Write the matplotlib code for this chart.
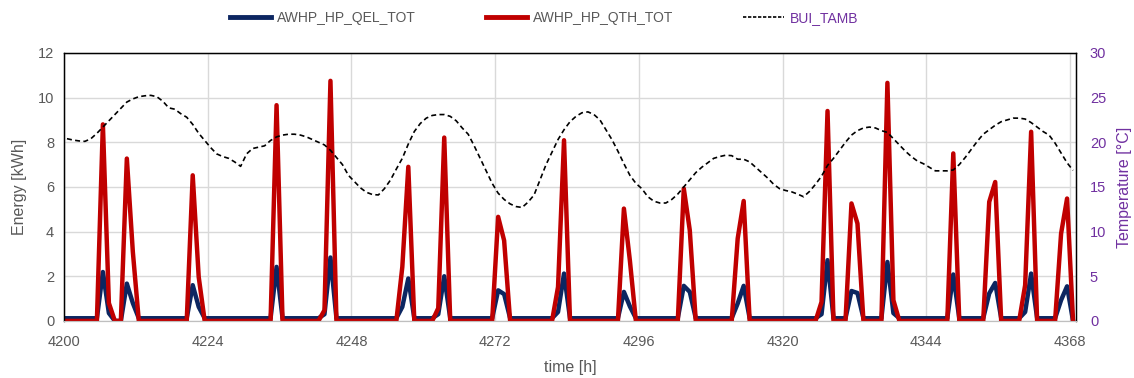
import numpy as np
import matplotlib.pyplot as plt
from matplotlib.lines import Line2D

plt.rcParams['font.family'] = ['Liberation Sans Narrow', 'Liberation Sans', 'DejaVu Sans']

# hourly values, 4200 .. 4368
hours = np.arange(4200, 4369)

# BUI_TAMB [°C]
tamb = [
    20.4, 20.25, 20.15, 20.1, 20.4, 21.0, 21.7, 22.4, 23.1, 23.8, 24.5, 24.85,      # 4200
    25.1, 25.2, 25.25, 25.1, 24.6, 23.85, 23.7, 23.2, 22.8, 22.0, 21.0, 20.2,       # 4212
    19.4, 18.7, 18.4, 18.2, 17.8, 17.3, 18.7, 19.3, 19.45, 19.6, 20.2, 20.6,        # 4224
    20.8, 20.9, 20.9, 20.8, 20.6, 20.3, 20.0, 19.7, 19.1, 18.3, 17.5, 16.3,         # 4236
    15.6, 14.9, 14.4, 14.15, 14.1, 14.8, 15.75, 17.0, 18.2, 19.8, 21.2, 22.1,       # 4248
    22.7, 23.0, 23.1, 23.1, 22.9, 22.4, 21.6, 20.9, 19.6, 18.2, 16.8, 15.4,         # 4260
    14.3, 13.6, 13.1, 12.8, 12.7, 13.3, 14.1, 15.8, 17.5, 18.9, 20.3, 21.4,         # 4272
    22.3, 22.9, 23.3, 23.4, 23.1, 22.5, 21.4, 20.3, 19.0, 17.6, 16.3, 15.4,         # 4284
    14.8, 13.9, 13.4, 13.2, 13.2, 13.6, 14.2, 15.0, 15.8, 16.6, 17.2, 17.7,         # 4296
    18.2, 18.4, 18.55, 18.5, 18.1, 18.1, 17.8, 17.2, 16.6, 16.0, 15.3, 14.8,        # 4308
    14.6, 14.45, 14.2, 13.9, 14.5, 15.3, 16.2, 17.4, 18.2, 19.1, 20.0, 20.8,        # 4320
    21.3, 21.6, 21.7, 21.6, 21.3, 21.1, 20.4, 19.7, 19.0, 18.4, 17.9, 17.6,         # 4332
    17.2, 16.8, 16.8, 16.8, 16.9, 17.5, 18.3, 19.2, 20.1, 20.9, 21.4, 21.9,         # 4344
    22.3, 22.5, 22.7, 22.7, 22.6, 22.2, 21.7, 21.2, 20.8, 19.9, 18.8, 17.7,         # 4356
    16.85,                                                                           # 4368
]

# AWHP_HP_QTH_TOT [kWh]
qth = [
    0, 0, 0, 0, 0, 0, 8.8, 0.8, 0, 0, 7.27, 3.1,                  # 4200
    0, 0, 0, 0, 0, 0, 0, 0, 0, 6.52, 1.97, 0,                     # 4212
    0, 0, 0, 0, 0, 0, 0, 0, 0, 0, 0, 9.66,                        # 4224
    0, 0, 0, 0, 0, 0, 0, 0.48, 10.75, 0, 0, 0,                    # 4236
    0, 0, 0, 0, 0, 0, 0, 0, 2.42, 6.9, 0, 0,                      # 4248
    0, 0, 0.57, 8.21, 0, 0, 0, 0, 0, 0, 0, 0,                     # 4260
    4.66, 3.6, 0, 0, 0, 0, 0, 0, 0, 0, 1.52, 8.09,                # 4272
    0, 0, 0, 0, 0, 0, 0, 0, 0, 5.03, 2.7, 0,                      # 4284
    0, 0, 0, 0, 0, 0, 0, 5.93, 4.06, 0, 0, 0,                     # 4296
    0, 0, 0, 0, 3.69, 5.37, 0, 0, 0, 0, 0, 0,                     # 4308
    0, 0, 0, 0, 0, 0, 0.85, 9.4, 0, 0, 0, 5.26,                   # 4320
    4.36, 0, 0, 0, 0, 10.66, 0.93, 0, 0, 0, 0, 0,                 # 4332
    0, 0, 0, 0, 7.5, 0, 0, 0, 0, 0, 5.33, 6.22,                   # 4344
    0, 0, 0, 0, 1.6, 8.47, 0, 0, 0, 0, 3.91, 5.48,                # 4356
    0,                                                            # 4368
]

# AWHP_HP_QEL_TOT [kWh]
qel = [
    0.12, 0.12, 0.12, 0.12, 0.12, 0.12, 2.19, 0.35, 0, 0, 1.67, 0.8,            # 4200
    0.12, 0.12, 0.12, 0.12, 0.12, 0.12, 0.12, 0.12, 0.12, 1.6, 0.63, 0.12,      # 4212
    0.12, 0.12, 0.12, 0.12, 0.12, 0.12, 0.12, 0.12, 0.12, 0.12, 0.12, 2.42,     # 4224
    0.12, 0.12, 0.12, 0.12, 0.12, 0.12, 0.12, 0.3, 2.84, 0.12, 0.12, 0.12,      # 4236
    0.12, 0.12, 0.12, 0.12, 0.12, 0.12, 0.12, 0.12, 0.63, 1.9, 0.12, 0.12,      # 4248
    0.12, 0.12, 0.3, 2.0, 0.12, 0.12, 0.12, 0.12, 0.12, 0.12, 0.12, 0.12,       # 4260
    1.37, 1.2, 0.12, 0.12, 0.12, 0.12, 0.12, 0.12, 0.12, 0.12, 0.4, 2.12,       # 4272
    0.12, 0.12, 0.12, 0.12, 0.12, 0.12, 0.12, 0.12, 0.12, 1.3, 0.65, 0.12,      # 4284
    0.12, 0.12, 0.12, 0.12, 0.12, 0.12, 0.12, 1.57, 1.3, 0.12, 0.12, 0.12,      # 4296
    0.12, 0.12, 0.12, 0.12, 0.78, 1.57, 0.12, 0.12, 0.12, 0.12, 0.12, 0.12,     # 4308
    0.12, 0.12, 0.12, 0.12, 0.12, 0.12, 0.3, 2.72, 0.12, 0.12, 0.12, 1.34,      # 4320
    1.25, 0.12, 0.12, 0.12, 0.12, 2.64, 0.35, 0.12, 0.12, 0.12, 0.12, 0.12,     # 4332
    0.12, 0.12, 0.12, 0.12, 2.08, 0.12, 0.12, 0.12, 0.12, 0.12, 1.23, 1.7,      # 4344
    0.12, 0.12, 0.12, 0.12, 0.4, 2.12, 0.12, 0.12, 0.12, 0.12, 0.93, 1.55,      # 4356
    0,                                                                           # 4368
]

xticks = np.arange(4200, 4369, 24)

gray = '#595959'
purple = '#7030a0'
navy = '#0c2661'
red = '#c00000'

# points sit in the middle of each hourly category (Excel style)
x = hours + 0.5

fig = plt.figure(figsize=(11.34, 3.78), dpi=100)
ax = fig.add_axes([0.0564, 0.151, 0.8925, 0.709])
ax2 = ax.twinx()

ax.plot(x, qel, color=navy, lw=3.2, solid_joinstyle='round', zorder=3)
ax.plot(x, qth, color=red, lw=3.2, solid_joinstyle='round', zorder=4)
ax2.plot(x, tamb, color='black', lw=1.2, ls=(0, (3, 2)), zorder=2)

ax.set_xlim(4200, 4369)
ax.set_ylim(0, 12)
ax2.set_ylim(0, 30)
ax.set_yticks(np.arange(0, 13, 2))
ax2.set_yticks(np.arange(0, 31, 5))
ax.set_xticks(xticks)
ax.set_xticklabels([str(t) for t in xticks])

ax.grid(True, color='#d9d9d9', lw=1)
ax.set_axisbelow(True)
ax.tick_params(length=0, labelsize=10.5, colors=gray, pad=7)
ax.tick_params(axis='x', pad=10)
ax2.tick_params(length=0, labelsize=10.5, colors=purple, pad=10)

for sp in ['top', 'left', 'right']:
    ax2.spines[sp].set_color('black')
    ax2.spines[sp].set_linewidth(1)
ax.spines['bottom'].set_color('#bfbfbf')
ax2.spines['bottom'].set_color('#bfbfbf')

ax.set_ylabel('Energy [kWh]', color=gray, fontsize=11.5, labelpad=8)
ax2.set_ylabel('Temperature [°C]', color=purple, fontsize=11.5, labelpad=8)
ax.set_xlabel('time [h]', color=gray, fontsize=11.5, labelpad=8)

handles = [
    Line2D([], [], color=navy, lw=3.5),
    Line2D([], [], color=red, lw=3.5),
    Line2D([], [], color='black', lw=1.2, ls=(0, (2, 1))),
]
labels = ['AWHP_HP_QEL_TOT', 'AWHP_HP_QTH_TOT', 'BUI_TAMB']
leg = fig.legend(handles, labels, loc='upper center', bbox_to_anchor=(0.48, 1.005),
                 ncol=3, frameon=False, fontsize=10, handlelength=2.95,
                 handletextpad=0.45, columnspacing=5.0)
for t in leg.get_texts():
    t.set_color(gray)
leg.get_texts()[2].set_color(purple)

fig.savefig('out.png', dpi=100)
